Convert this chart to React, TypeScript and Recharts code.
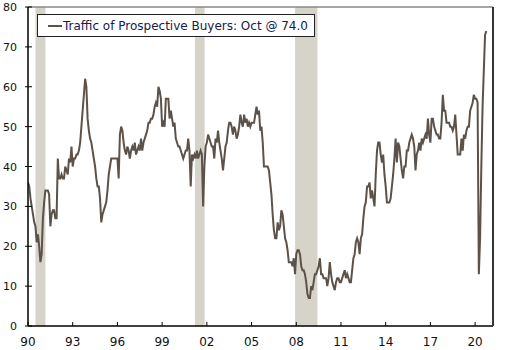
import React from 'react';
import { LineChart, Line, XAxis, YAxis, ReferenceArea, ReferenceLine } from 'recharts';

const startYear = 1990;

const traffic1990s = [
  36, 35, 32, 30, 28, 26, 25, 21, 23, 20, 16, 18,
  27, 31, 34, 34, 34, 33, 25, 28, 29, 29, 27, 27,
  42, 37, 37, 38, 37, 37, 40, 39, 38, 42, 41, 45,
  40, 42, 42, 43, 43, 44, 46, 50, 54, 58, 62, 60,
  52, 49, 47, 46, 44, 42, 40, 37, 35, 35, 32, 26,
  28, 29, 30, 31, 34, 38, 40, 42, 42, 42, 42, 42,
  42, 37, 48, 50, 49, 46, 44, 43, 45, 44, 42, 44,
  45, 44, 46, 43, 44, 45, 44, 47, 44, 46, 47, 48,
  49, 51, 51, 52, 52, 53, 55, 56, 55, 60, 59, 57,
  50, 51, 50, 57, 57, 57, 52, 54, 52, 50, 51, 47,
];

const traffic2000s = [
  46, 45, 45, 44, 43, 42, 43, 44, 44, 47, 44, 35,
  43, 42, 43, 42, 44, 42, 43, 44, 43, 30, 40, 45,
  46, 48, 47, 46, 45, 45, 42, 47, 46, 49, 46, 44,
  42, 39, 42, 45, 46, 49, 51, 51, 50, 48, 50, 49,
  47, 48, 50, 53, 51, 50, 53, 51, 52, 50, 51, 50,
  51, 51, 51, 53, 55, 53, 54, 49, 50, 46, 40, 40,
  40, 40, 39, 36, 33, 28, 24, 22, 22, 26, 24, 25,
  29, 28, 25, 22, 21, 19, 16, 16, 16, 15, 17, 13,
  18, 19, 19, 18, 15, 14, 14, 13, 11, 8, 7, 7,
  10, 9, 11, 13, 13, 14, 15, 17, 13, 13, 12, 12,
];

const traffic2010s = [
  12, 10, 12, 16, 13, 11, 10, 9, 11, 12, 12, 11,
  11, 12, 13, 14, 12, 13, 12, 11, 11, 14, 17, 18,
  21, 22, 21, 18, 22, 23, 27, 30, 31, 35, 35, 36,
  32, 34, 32, 30, 38, 44, 46, 46, 43, 41, 43, 38,
  35, 31, 31, 31, 32, 35, 38, 42, 47, 41, 46, 45,
  42, 39, 37, 40, 40, 44, 44, 46, 47, 48, 47, 45,
  39, 43, 44, 46, 44, 47, 46, 47, 48, 47, 52, 48,
  46, 52, 52, 50, 49, 48, 48, 47, 47, 51, 58, 54,
  54, 51, 51, 51, 50, 50, 49, 50, 53, 48, 43, 43,
  43, 47, 44, 48, 47, 49, 50, 50, 54, 55, 56, 58,
];

const traffic2020 = [57, 57, 56, 13, 22, 40, 55, 64, 73, 74];

const recessions = [
  { start: 1990.5, end: 1991.17 },
  { start: 2001.2, end: 2001.85 },
  { start: 2007.92, end: 2009.42 },
];

const xTicks = [1990, 1993, 1996, 1999, 2002, 2005, 2008, 2011, 2014, 2017, 2020];
const yTicks = [0, 10, 20, 30, 40, 50, 60, 70, 80];
const legendLabel = 'Traffic of Prospective Buyers: Oct @ 74.0';

const allValues = [...traffic1990s, ...traffic2000s, ...traffic2010s, ...traffic2020];
const data = allValues.map((v, i) => ({ t: startYear + i / 12, v }));

const FONT = '"DejaVu Sans", Verdana, sans-serif';
const LINE_COLOR = '#5c5249';

const LeftTick = (props: any) => {
  const { x, y, payload } = props;
  return (
    <g>
      <line x1={x - 3} x2={x + 4} y1={y} y2={y} stroke="#000" strokeWidth={1} />
      <text x={x - 11} y={y} dy={4} textAnchor="end" fontFamily={FONT} fontSize={11} fill="#111">
        {payload.value}
      </text>
    </g>
  );
};

const RightTick = (props: any) => {
  const { x, y, payload } = props;
  return (
    <g>
      <line x1={x - 4} x2={x + 4} y1={y} y2={y} stroke="#222" strokeWidth={1} />
      <text x={x + 9} y={y} dy={4} textAnchor="start" fontFamily={FONT} fontSize={11} fill="#111">
        {payload.value}
      </text>
    </g>
  );
};

const BottomTick = (props: any) => {
  const { x, y, payload } = props;
  const label = String(Math.round(payload.value) % 100).padStart(2, '0');
  return (
    <g>
      <line x1={x} x2={x} y1={y - 4} y2={y} stroke="#000" strokeWidth={1} />
      <text x={x} y={y} dy={20} textAnchor="middle" fontFamily={FONT} fontSize={12} fill="#111">
        {label}
      </text>
    </g>
  );
};

export default function App() {
  return (
    <div style={{ position: 'absolute', left: 0, top: 0, width: 523, height: 350, background: '#fff' }}>
      <LineChart width={523} height={350} data={data} margin={{ top: 7, right: 0, left: 0, bottom: 0 }}>
        <XAxis
          dataKey="t"
          type="number"
          domain={[1990, 2021.2]}
          ticks={xTicks}
          allowDataOverflow
          height={24}
          tickSize={0}
          tickMargin={0}
          tickLine={false}
          axisLine={{ stroke: '#000', strokeWidth: 1.5 }}
          tick={<BottomTick />}
          interval={0}
        />
        <YAxis
          yAxisId="left"
          domain={[0, 80]}
          ticks={yTicks}
          width={28}
          tickSize={0}
          tickMargin={0}
          tickLine={false}
          axisLine={{ stroke: '#000', strokeWidth: 1.5 }}
          tick={<LeftTick />}
          interval={0}
        />
        <YAxis
          yAxisId="right"
          orientation="right"
          domain={[0, 80]}
          ticks={yTicks}
          width={30}
          tickSize={0}
          tickMargin={0}
          tickLine={false}
          axisLine={{ stroke: '#333', strokeWidth: 2 }}
          tick={<RightTick />}
          interval={0}
        />
        {recessions.map((r, i) => (
          <ReferenceArea
            key={i}
            yAxisId="left"
            x1={r.start}
            x2={r.end}
            y1={0}
            y2={80}
            fill="#d6d3c8"
            fillOpacity={1}
            stroke="none"
          />
        ))}
        <ReferenceLine yAxisId="left" y={80} stroke="#888" strokeWidth={1.5} />
        <Line
          yAxisId="left"
          type="linear"
          dataKey="v"
          stroke={LINE_COLOR}
          strokeWidth={2}
          dot={false}
          isAnimationActive={false}
        />
      </LineChart>
      <div
        style={{
          position: 'absolute',
          left: 37,
          top: 14,
          width: 278,
          height: 23,
          boxSizing: 'border-box',
          border: '1px solid #222',
          background: '#fff',
          display: 'flex',
          alignItems: 'center',
          fontFamily: FONT,
          fontSize: 12,
          color: '#13204f',
          whiteSpace: 'nowrap',
        }}
      >
        <span style={{ display: 'inline-block', width: 14, height: 2, background: LINE_COLOR, marginLeft: 10, marginRight: 1 }} />
        <span>{legendLabel}</span>
      </div>
    </div>
  );
}
